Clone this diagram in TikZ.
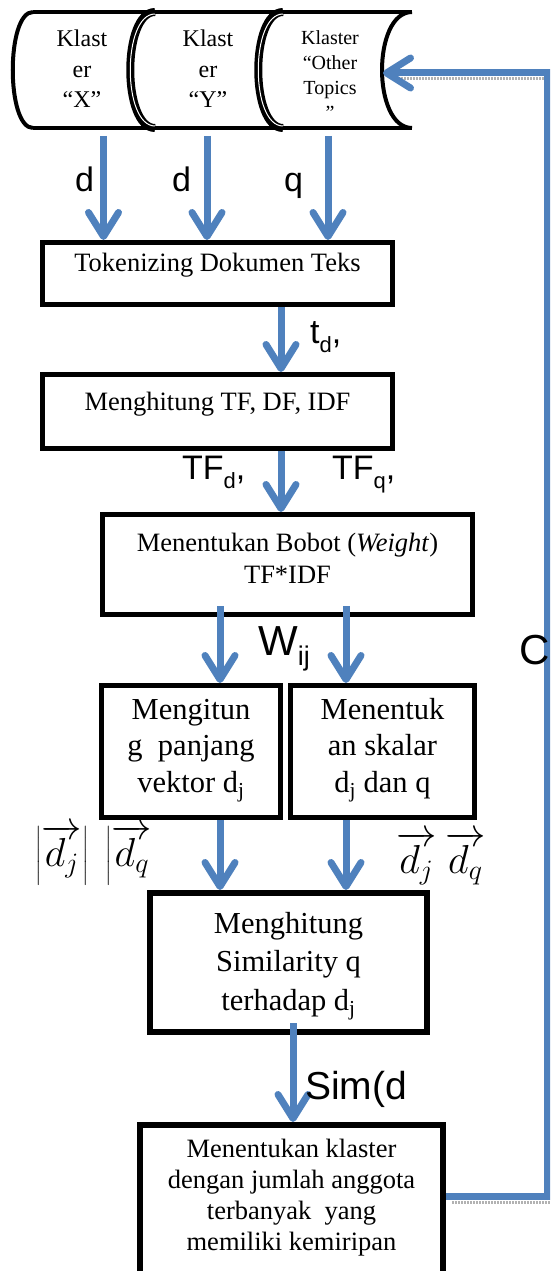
\documentclass[tikz,border=0pt]{standalone}
\usepackage{fontspec}
\setmainfont{Liberation Serif}
\newfontfamily\arialf{Liberation Sans}
\usetikzlibrary{arrows.meta}
\definecolor{flowblue}{HTML}{4F81BD}
% lowered subscript for the sans-serif edge labels
\newcommand{\lsub}[1]{\raisebox{-9pt}{\fontsize{22}{24}\selectfont #1}}
\newcommand{\wsub}[1]{\raisebox{-10pt}{\fontsize{27}{30}\selectfont #1}}

\begin{document}
\begin{tikzpicture}[x=1pt,y=-1pt,
  box/.style={draw=black, line width=5pt, rectangle, inner sep=0pt},
  flow/.style={draw=flowblue, line width=7pt,
    -{Straight Barb[round,length=24pt,width=30pt]}},
  txt/.style={anchor=base, align=center, inner sep=0pt,
    font=\fontsize{26.5}{32}\selectfont},
  bigtxt/.style={anchor=base, align=center, inner sep=0pt,
    font=\fontsize{30.5}{36.5}\selectfont},
  lbl/.style={anchor=base west, inner sep=0pt,
    font=\arialf\fontsize{34}{40}\selectfont},
  mlbl/.style={anchor=base west, inner sep=0pt, scale=1.95,
    font=\fontsize{20}{24}\selectfont},
  shade/.style={draw=gray!60, line width=3pt, dash pattern=on 1.5pt off 1.5pt},
  drum/.style={draw=black, line width=4pt},
  seam/.style={draw=black, line width=8pt}
]
\useasboundingbox (0,0) rectangle (550,1271);
\clip (0,0) rectangle (550,1271);

% --- storage drum with the three clusters ---
\draw[drum] (33,12) -- (412,12);
\draw[drum] (33,128) -- (412,128);
\draw[drum] (33,12) .. controls (6,12) and (6,128) .. (33,128);
\draw[seam] (155,12) .. controls (122,12) and (122,128) .. (155,128);
\draw[draw=white, line width=1pt] (155,14) .. controls (122,14) and (122,126) .. (155,126);
\draw[seam] (283,12) .. controls (250,12) and (250,128) .. (283,128);
\draw[draw=white, line width=1pt] (283,14) .. controls (250,14) and (250,126) .. (283,126);
\draw[drum] (412,12) .. controls (372,12) and (372,128) .. (412,128);

% (multi-line nodes: the base anchor is the baseline of the last line)
\node[anchor=base, align=center, inner sep=0pt, font=\fontsize{24}{30.5}\selectfont]
  (kx) at (82,108) {Klast\\er\\“X”};
\node[anchor=base, align=center, inner sep=0pt, font=\fontsize{24}{30.5}\selectfont]
  (ky) at (208,108) {Klast\\er\\“Y”};
\node[anchor=base, align=center, inner sep=0pt, font=\fontsize{20}{25}\selectfont]
  (ko) at (330,120) {Klaster\\“Other\\Topics\\”};

\coordinate (sx) at (103.5,136);
\coordinate (sy) at (207,136);
\coordinate (so) at (328,136);
\coordinate (cylend) at (383,73);

% --- process boxes ---
\node[box, minimum width=350pt, minimum height=62pt] (b1) at (217.5,273.5) {};
\node[txt] (t1) at (217.5,271.5) {Tokenizing Dokumen Teks};

\node[box, minimum width=350pt, minimum height=74pt] (b2) at (217.5,411.5) {};
\node[txt] (t2) at (217.5,410) {Menghitung TF, DF, IDF};

\node[box, minimum width=370pt, minimum height=100pt] (b3) at (287.5,564.5) {};
\node[txt] (t3) at (287.5,583) {Menentukan Bobot (\textit{Weight})\\TF*IDF};

\node[box, minimum width=179pt, minimum height=132pt] (b4) at (191,751.5) {};
\node[bigtxt] (t4) at (191,792) {Mengitun\\g~ panjang\\vektor d\textsubscript{j}};

\node[box, minimum width=184pt, minimum height=132pt] (b5) at (382.5,751.5) {};
\node[bigtxt] (t5) at (382.5,792) {Menentuk\\an skalar\\d\textsubscript{j} dan q};

\node[box, line width=6pt, minimum width=277pt, minimum height=139pt] (b6) at (288.5,962.5) {};
\node[bigtxt, font=\fontsize{30.5}{38.5}\selectfont] (t6) at (288.5,1010)
  {Menghitung\\Similarity q\\terhadap d\textsubscript{j}};

\node[box, line width=6pt, minimum width=303pt, minimum height=272pt] (b7) at (291.5,1261) {};
\node[txt, font=\fontsize{26.5}{31}\selectfont] (t7) at (291.5,1250)
  {Menentukan klaster\\dengan jumlah anggota\\terbanyak~ yang\\memiliki kemiripan};

% --- flow arrows ---
\draw[flow] (sx) -- (sx |- b1.north);
\draw[flow] (sy) -- (sy |- b1.north);
\draw[flow] (so) -- (so |- b1.north);

\coordinate (m12) at (281,0);
\draw[flow] (m12 |- b1.south) -- (m12 |- b2.north);
\draw[flow] (m12 |- b2.south) -- (m12 |- b3.north);

\coordinate (w1) at (220,606);
\coordinate (w2) at (346,606);
\draw[flow] (w1) -- (w1 |- b4.north);
\draw[flow] (w2) -- (w2 |- b5.north);

\draw[flow] (w1 |- b4.south) -- (w1 |- b6.north);
\draw[flow] (w2 |- b5.south) -- (w2 |- b6.north);

\coordinate (s6) at (293,1023);
\draw[flow] (s6) -- (s6 |- b7.north);

% --- feedback loop back to the drum ---
\coordinate (fbl) at (547,1196);
\coordinate (fbu) at (547,73);
\draw[shade] (452,1202) -- (550,1202);
\draw[shade] (395,79) -- (544,79);
\draw[flow, line join=miter] (b7.east |- fbl) -- (fbl) -- (fbu) -- (cylend);

% --- edge labels ---
\node[lbl] (ld1) at (75,191) {d};
\node[lbl] (ld2) at (172,191) {d};
\node[lbl] (lq) at (284,191) {q};
\node[lbl] (ltd) at (310,343) {t\lsub{d},};
\node[lbl] (ltfd) at (182,479) {TF\lsub{d},};
\node[lbl] (ltfq) at (332,479) {TF\lsub{q},};
\node[lbl, font=\arialf\fontsize{42}{48}\selectfont] (lw) at (258,655) {W\wsub{ij}};
\node[lbl, font=\arialf\fontsize{42}{48}\selectfont] (lc) at (519,664) {C};
\node[lbl, font=\arialf\fontsize{39}{46}\selectfont] (lsim) at (305,1099) {Sim(d};

\node[mlbl] (mdj) at (35,866) {$\left|\overrightarrow{d_j}\right|$};
\node[mlbl] (mdq) at (105,866) {$\left|\overrightarrow{d_q}\right.$};
\node[mlbl] (vdj) at (396,873) {$\overrightarrow{d_j}$};
\node[mlbl] (vdq) at (445,873) {$\overrightarrow{d_q}$};
\end{tikzpicture}
\end{document}
